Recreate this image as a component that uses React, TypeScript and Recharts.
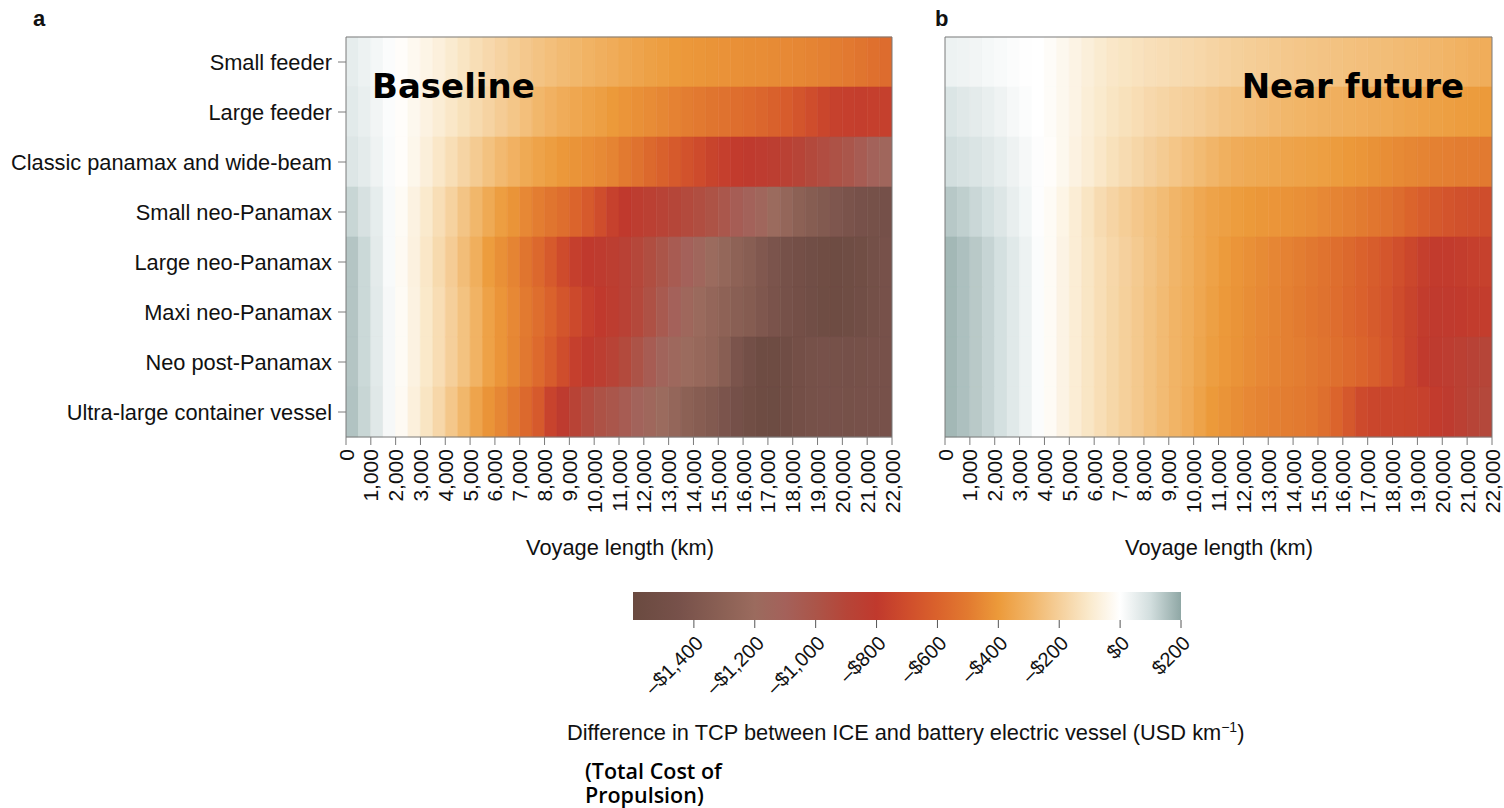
import React from "react";
import { BarChart, Bar, Cell, XAxis, YAxis } from "recharts";

// Vessel classes, top to bottom
const VESSELS = [
  "Small feeder",
  "Large feeder",
  "Classic panamax and wide-beam",
  "Small neo-Panamax",
  "Large neo-Panamax",
  "Maxi neo-Panamax",
  "Neo post-Panamax",
  "Ultra-large container vessel",
];

// Each cell covers a 500 km voyage-length bin, from 0 to 22,000 km
const BIN_WIDTH_KM = 500;
const X_TICKS = [
  0, 1000, 2000, 3000, 4000, 5000, 6000, 7000, 8000, 9000, 10000, 11000,
  12000, 13000, 14000, 15000, 16000, 17000, 18000, 19000, 20000, 21000, 22000,
];

// TCP difference (USD per km), baseline scenario, one value per 500 km bin
const BASE_SMALL_FEEDER = [55, 40, 25, 8, -10, -30, -50, -70, -95, -120, -145, -165, -185, -205, -225, -245, -260, -275, -290, -305, -318, -330, -345, -360, -372, -385, -395, -405, -412, -418, -424, -430, -436, -442, -448, -454, -460, -468, -478, -490, -505, -520, -540, -560];
const BASE_LARGE_FEEDER = [65, 50, 30, 10, -10, -35, -60, -85, -110, -135, -160, -185, -210, -235, -260, -290, -310, -330, -350, -365, -380, -400, -415, -430, -445, -460, -475, -490, -505, -520, -535, -550, -565, -585, -605, -630, -660, -700, -735, -760, -770, -775, -770, -765];
const BASE_CLASSIC_PANAMAX = [75, 60, 35, 12, -10, -40, -75, -110, -145, -180, -215, -250, -280, -310, -340, -365, -385, -405, -420, -435, -450, -470, -500, -535, -570, -605, -640, -675, -710, -745, -770, -790, -810, -825, -840, -865, -895, -925, -950, -980, -1010, -1060, -1110, -1150];
const BASE_SMALL_NEO = [115, 90, 55, 15, -20, -60, -100, -145, -190, -240, -290, -340, -385, -420, -455, -490, -520, -550, -590, -640, -700, -760, -800, -830, -855, -880, -905, -930, -955, -985, -1020, -1070, -1110, -1150, -1200, -1250, -1300, -1340, -1370, -1400, -1430, -1450, -1460, -1470];
const BASE_LARGE_NEO = [145, 110, 60, 15, -25, -65, -110, -160, -210, -265, -320, -390, -430, -470, -520, -575, -640, -710, -770, -800, -820, -840, -870, -910, -955, -1000, -1050, -1100, -1150, -1200, -1245, -1290, -1330, -1380, -1420, -1460, -1490, -1515, -1535, -1550, -1545, -1520, -1480, -1450];
const BASE_MAXI_NEO = [145, 110, 65, 20, -20, -60, -105, -150, -200, -250, -305, -370, -415, -455, -500, -550, -600, -660, -720, -770, -800, -830, -870, -920, -975, -1040, -1100, -1160, -1210, -1250, -1290, -1320, -1350, -1390, -1430, -1460, -1490, -1515, -1540, -1555, -1545, -1515, -1480, -1450];
const BASE_NEO_POST = [145, 110, 65, 20, -20, -60, -105, -150, -200, -250, -305, -370, -415, -460, -510, -565, -630, -700, -770, -810, -840, -880, -930, -990, -1060, -1130, -1170, -1200, -1230, -1260, -1330, -1420, -1500, -1550, -1555, -1530, -1490, -1460, -1450, -1460, -1470, -1460, -1455, -1450];
const BASE_ULCV = [150, 115, 70, 20, -25, -70, -120, -170, -230, -290, -360, -420, -460, -510, -570, -640, -750, -820, -880, -940, -980, -1010, -1060, -1120, -1160, -1200, -1250, -1300, -1335, -1370, -1420, -1470, -1520, -1555, -1560, -1530, -1490, -1460, -1450, -1455, -1460, -1455, -1450, -1450];

// TCP difference (USD per km), near-future scenario
const NEAR_SMALL_FEEDER = [40, 35, 30, 22, 15, 8, 3, 0, -15, -35, -55, -75, -95, -110, -120, -130, -140, -148, -155, -162, -170, -180, -190, -198, -205, -212, -220, -226, -232, -238, -243, -248, -253, -258, -263, -268, -273, -278, -285, -292, -300, -308, -318, -328];
const NEAR_LARGE_FEEDER = [80, 70, 60, 48, 35, 20, 8, 0, -15, -35, -55, -80, -100, -120, -135, -150, -165, -178, -190, -200, -210, -225, -240, -250, -260, -270, -280, -290, -298, -305, -312, -318, -324, -330, -337, -344, -352, -360, -368, -375, -382, -388, -394, -400];
const NEAR_CLASSIC_PANAMAX = [100, 92, 82, 70, 55, 38, 20, 5, -10, -35, -60, -85, -110, -135, -155, -175, -195, -215, -235, -255, -275, -295, -315, -330, -340, -348, -355, -362, -368, -374, -382, -392, -402, -414, -426, -438, -450, -460, -470, -478, -485, -490, -495, -500];
const NEAR_SMALL_NEO = [140, 128, 112, 95, 75, 52, 28, 5, -20, -50, -85, -120, -155, -180, -205, -228, -250, -272, -295, -320, -345, -365, -378, -390, -400, -408, -415, -422, -432, -442, -455, -468, -482, -498, -515, -535, -560, -590, -620, -645, -665, -680, -692, -700];
const NEAR_LARGE_NEO = [170, 155, 138, 118, 95, 68, 40, 10, -20, -55, -85, -115, -145, -170, -195, -220, -245, -270, -295, -320, -345, -370, -395, -415, -432, -448, -462, -475, -490, -508, -528, -550, -572, -598, -625, -655, -690, -730, -770, -790, -790, -780, -770, -760];
const NEAR_MAXI_NEO = [170, 155, 138, 118, 95, 68, 40, 10, -20, -55, -85, -115, -145, -172, -198, -224, -250, -275, -300, -325, -350, -378, -402, -420, -437, -453, -467, -480, -497, -515, -535, -555, -578, -603, -632, -665, -705, -745, -785, -805, -805, -795, -785, -780];
const NEAR_NEO_POST = [170, 155, 138, 118, 95, 68, 40, 10, -20, -55, -85, -115, -145, -172, -198, -224, -250, -275, -300, -325, -355, -385, -405, -422, -440, -455, -468, -480, -492, -508, -525, -545, -565, -590, -620, -655, -700, -750, -795, -820, -835, -855, -878, -900];
const NEAR_ULCV = [170, 155, 138, 118, 95, 68, 40, 10, -20, -55, -85, -115, -145, -172, -198, -224, -250, -275, -300, -330, -365, -400, -420, -438, -455, -470, -482, -492, -500, -515, -545, -590, -650, -715, -735, -740, -742, -745, -760, -790, -820, -855, -890, -920];

const BASELINE_VALUES = [BASE_SMALL_FEEDER, BASE_LARGE_FEEDER, BASE_CLASSIC_PANAMAX, BASE_SMALL_NEO, BASE_LARGE_NEO, BASE_MAXI_NEO, BASE_NEO_POST, BASE_ULCV];
const NEAR_FUTURE_VALUES = [NEAR_SMALL_FEEDER, NEAR_LARGE_FEEDER, NEAR_CLASSIC_PANAMAX, NEAR_SMALL_NEO, NEAR_LARGE_NEO, NEAR_MAXI_NEO, NEAR_NEO_POST, NEAR_ULCV];

// Colour scale
const SCALE_MIN = -1600;
const SCALE_MAX = 200;
const COLORBAR_TICKS = [-1400, -1200, -1000, -800, -600, -400, -200, 0, 200];
const COLOR_STOPS: [number, string][] = [
  [-1600, "#6a4a40"],
  [-1450, "#77514a"],
  [-1300, "#8c6155"],
  [-1200, "#9b6b5e"],
  [-1100, "#a4615a"],
  [-1000, "#ab5549"],
  [-900, "#b64538"],
  [-800, "#c0392d"],
  [-700, "#cf4d2c"],
  [-600, "#da622c"],
  [-500, "#e27a30"],
  [-400, "#ec9a3a"],
  [-300, "#f1b466"],
  [-200, "#f5cf9a"],
  [-100, "#faeacd"],
  [0, "#ffffff"],
  [100, "#d2dede"],
  [200, "#8fa7a5"],
];

const hexToRgb = (h: string) => [
  parseInt(h.slice(1, 3), 16),
  parseInt(h.slice(3, 5), 16),
  parseInt(h.slice(5, 7), 16),
];

function colorFor(v: number): string {
  const x = Math.max(SCALE_MIN, Math.min(SCALE_MAX, v));
  for (let i = 0; i < COLOR_STOPS.length - 1; i++) {
    const [v0, c0] = COLOR_STOPS[i];
    const [v1, c1] = COLOR_STOPS[i + 1];
    if (x >= v0 && x <= v1) {
      const t = (x - v0) / (v1 - v0);
      const a = hexToRgb(c0);
      const b = hexToRgb(c1);
      const m = a.map((ai, k) => Math.round(ai + (b[k] - ai) * t));
      return `rgb(${m[0]},${m[1]},${m[2]})`;
    }
  }
  return COLOR_STOPS[COLOR_STOPS.length - 1][1];
}

const FONT = "'Liberation Sans', Arial, Helvetica, sans-serif";
const LABEL_SIZE = 21.8;
const FRAME = "#7a7a7a";
const N_BINS = BASE_SMALL_FEEDER.length;
const BIN_KEYS = Array.from({ length: N_BINS }, (_, i) => `bin${i}`);

function buildRows() {
  return VESSELS.map((vessel) => {
    const row: Record<string, number | string> = { vessel };
    BIN_KEYS.forEach((k) => {
      row[k] = BIN_WIDTH_KM;
    });
    return row;
  });
}

const fmtKm = (v: number) => v.toLocaleString("en-US");

function KmTick(props: any) {
  const { x, y, payload } = props;
  return (
    <text
      x={x}
      y={y}
      transform={`rotate(-90, ${x}, ${y})`}
      textAnchor="end"
      dy="0.36em"
      fontFamily={FONT}
      fontSize={21}
      fill="#111"
    >
      {fmtKm(payload.value)}
    </text>
  );
}

function Heatmap({ values, showLabels }: { values: number[][]; showLabels: boolean }) {
  const data = buildRows();
  return (
    <BarChart
      width={showLabels ? 912 : 604}
      height={530}
      data={data}
      layout="vertical"
      barCategoryGap={0}
      barGap={0}
      margin={{ top: 36, right: showLabels ? 19 : 11, bottom: 0, left: 0 }}
    >
      <XAxis
        type="number"
        domain={[0, 22000]}
        ticks={X_TICKS}
        interval={0}
        allowDataOverflow
        height={93}
        tickSize={8}
        tickMargin={4}
        tick={<KmTick />}
        tickLine={{ stroke: FRAME }}
        axisLine={{ stroke: FRAME }}
      />
      <XAxis
        xAxisId="top"
        orientation="top"
        type="number"
        domain={[0, 22000]}
        height={1}
        tick={false}
        tickLine={false}
        axisLine={{ stroke: FRAME }}
      />
      <YAxis
        type="category"
        dataKey="vessel"
        width={showLabels ? 346 : 45}
        tick={showLabels ? { fontFamily: FONT, fontSize: LABEL_SIZE, fill: "#111" } : false}
        tickLine={showLabels ? { stroke: FRAME } : false}
        tickSize={8}
        tickMargin={6}
        axisLine={{ stroke: FRAME }}
        interval={0}
      />
      <YAxis
        yAxisId="right"
        orientation="right"
        type="category"
        dataKey="vessel"
        width={1}
        tick={false}
        tickLine={false}
        axisLine={{ stroke: FRAME }}
      />
      {BIN_KEYS.map((k, i) => (
        <Bar key={k} dataKey={k} stackId="tcp" isAnimationActive={false}>
          {values.map((row, r) => (
            <Cell key={r} fill={colorFor(row[i])} stroke={colorFor(row[i])} strokeWidth={0.6} />
          ))}
        </Bar>
      ))}
    </BarChart>
  );
}

const fmtUsd = (v: number) =>
  v < 0 ? `\u2013$${Math.abs(v).toLocaleString("en-US")}` : `$${v.toLocaleString("en-US")}`;

function UsdTick(props: any) {
  const { x, y, payload } = props;
  const ax = x + 2;
  const ay = y + 6;
  return (
    <text
      x={ax}
      y={ay}
      transform={`rotate(-45, ${ax}, ${ay})`}
      textAnchor="end"
      dy="0.6em"
      fontFamily={FONT}
      fontSize={20}
      fill="#111"
    >
      {fmtUsd(payload.value)}
    </text>
  );
}

function ColorBar() {
  const data = [{ name: "scale", range: [SCALE_MIN, SCALE_MAX] }];
  return (
    <BarChart
      width={620}
      height={160}
      data={data}
      layout="vertical"
      barCategoryGap={0}
      margin={{ top: 32, right: 39, bottom: 0, left: 33 }}
    >
      <defs>
        <linearGradient id="tcpScale" x1="0" y1="0" x2="1" y2="0">
          {COLOR_STOPS.map(([v, c]) => (
            <stop key={v} offset={(v - SCALE_MIN) / (SCALE_MAX - SCALE_MIN)} stopColor={c} />
          ))}
        </linearGradient>
      </defs>
      <XAxis
        type="number"
        domain={[SCALE_MIN, SCALE_MAX]}
        ticks={COLORBAR_TICKS}
        interval={0}
        height={100}
        tickSize={8}
        tickMargin={2}
        axisLine={false}
        tickLine={{ stroke: "#555" }}
        tick={<UsdTick />}
      />
      <YAxis type="category" dataKey="name" hide />
      <Bar dataKey="range" fill="url(#tcpScale)" isAnimationActive={false} />
    </BarChart>
  );
}

export default function App() {
  return (
    <div style={{ position: "absolute", left: 0, top: 0, width: 1504, height: 808, background: "#fff", overflow: "hidden" }}>
      <div style={{ position: "absolute", left: 0, top: 0 }}>
        <Heatmap values={BASELINE_VALUES} showLabels />
      </div>
      <div style={{ position: "absolute", left: 900, top: 0 }}>
        <Heatmap values={NEAR_FUTURE_VALUES} showLabels={false} />
      </div>
      <div style={{ position: "absolute", left: 600, top: 560 }}>
        <ColorBar />
      </div>
      <svg
        width={1504}
        height={808}
        style={{ position: "absolute", left: 0, top: 0, pointerEvents: "none" }}
      >
        <text x={33} y={26} fontFamily={FONT} fontWeight="bold" fontSize={22} fill="#111">a</text>
        <text x={935} y={26} fontFamily={FONT} fontWeight="bold" fontSize={22} fill="#111">b</text>
        <text x={372} y={98} fontFamily="'DejaVu Sans', sans-serif" fontWeight="bold" fontSize={34} fill="#000">Baseline</text>
        <text x={1464} y={98} textAnchor="end" fontFamily="'DejaVu Sans', sans-serif" fontWeight="bold" fontSize={34} fill="#000">Near future</text>
        <text x={620} y={555} textAnchor="middle" fontFamily={FONT} fontSize={LABEL_SIZE} fill="#111">Voyage length (km)</text>
        <text x={1219} y={555} textAnchor="middle" fontFamily={FONT} fontSize={LABEL_SIZE} fill="#111">Voyage length (km)</text>
        <text x={567} y={740} fontFamily={FONT} fontSize={LABEL_SIZE} fill="#111">
          Difference in TCP between ICE and battery electric vessel (USD km
          <tspan dy={-8} fontSize={14}>{"\u22121"}</tspan>
          <tspan dy={8}>)</tspan>
        </text>
        <text x={585} y={779} fontFamily="'Open Sans', sans-serif" fontWeight={600} fontSize={21.5} fill="#000">
          <tspan x={585} y={779}>(Total Cost of</tspan>
          <tspan x={585} y={803}>Propulsion)</tspan>
        </text>
      </svg>
    </div>
  );
}
